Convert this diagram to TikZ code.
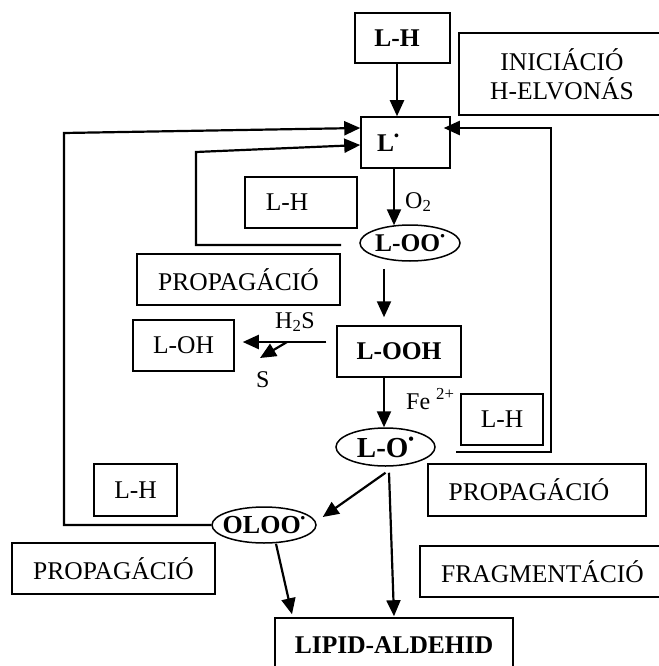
\documentclass[tikz,border=0pt]{standalone}
\usepackage{fontspec}
\setmainfont{Liberation Serif}
\usetikzlibrary{arrows.meta,shapes.geometric,calc}
\newcommand\radot[1]{\raisebox{0.45em}{\fontsize{#1}{#1}\selectfont •}}
\newcommand\shiftedtext[2]{\makebox[0pt]{\kern#1\relax #2}}
\begin{document}
\begin{tikzpicture}[x=1pt,y=-1pt,
  box/.style={draw,line width=1.5pt,rectangle,inner sep=0pt,font=\fontsize{25.5pt}{29pt}\selectfont},
  ell/.style={draw,ellipse,line width=1.5pt,inner sep=0pt,font=\bfseries\fontsize{25.5pt}{29pt}\selectfont},
  arr/.style={-{Triangle[length=16pt,width=14pt]},line width=2.2pt},
  lbl/.style={inner sep=0pt,font=\fontsize{24pt}{26pt}\selectfont}]
\useasboundingbox (0,0) rectangle (658,666);
% boxes
\node[box,minimum width=95pt,minimum height=50pt,font=\bfseries\fontsize{25.5pt}{29pt}\selectfont] (lhtop) at (402.5,38) {\shiftedtext{-11pt}{L-H}};
\node[box,minimum width=206pt,minimum height=82pt,align=center] (inic) at (562,74) {INICIÁCIÓ\\H-ELVONÁS};
\node[box,minimum width=89pt,minimum height=51pt,font=\bfseries\fontsize{25.5pt}{29pt}\selectfont] (lrad) at (405.5,142.5) {\shiftedtext{-35pt}{L\radot{14pt}}};
\node[box,minimum width=112pt,minimum height=51pt] (lh2) at (301,202.5) {\shiftedtext{-28pt}{L-H}};
\node[ell,minimum width=100pt,minimum height=36pt] (loo) at (410,243) {\makebox[0pt]{L-OO\radot{13pt}}};
\node[box,minimum width=203pt,minimum height=51pt] (prop1) at (238.5,279.5) {PROPAGÁCIÓ};
\node[box,minimum width=101pt,minimum height=51pt] (loh) at (183.5,345.5) {L-OH};
\node[box,minimum width=124pt,minimum height=51pt,font=\bfseries\fontsize{25.5pt}{29pt}\selectfont] (looh) at (399,351.5) {L-OOH};
\node[box,minimum width=82pt,minimum height=51pt] (lh3) at (502,419.5) {L-H};
\node[ell,minimum width=99pt,minimum height=38pt,font=\bfseries\fontsize{29pt}{31pt}\selectfont] (lo) at (385.5,447) {\makebox[0pt]{L-O\radot{16pt}}};
\node[box,minimum width=83pt,minimum height=52pt] (lh4) at (135.5,490) {L-H};
\node[box,minimum width=218pt,minimum height=52pt] (prop2) at (537,490) {\shiftedtext{-16pt}{PROPAGÁCIÓ}};
\node[ell,minimum width=104pt,minimum height=36pt,font=\bfseries\fontsize{26pt}{28pt}\selectfont] (oloo) at (264,525) {\makebox[0pt]{OLOO\radot{13pt}}};
\node[box,minimum width=203pt,minimum height=51pt] (prop3) at (113.5,568.5) {PROPAGÁCIÓ};
\node[box,minimum width=245pt,minimum height=51pt] (frag) at (542.5,571.5) {FRAGMENTÁCIÓ};
\node[box,minimum width=238pt,minimum height=54pt,font=\bfseries\fontsize{25.5pt}{29pt}\selectfont] (lipid) at (394,645) {LIPID-ALDEHID};
% labels
\node[lbl,anchor=base west] (o2) at (405,208) {O\textsubscript{2}};
\node[lbl,anchor=base west] (h2s) at (275,328) {H\textsubscript{2}S};
\node[lbl,anchor=base west] (s) at (256,387) {S};
\node[lbl,anchor=base west] (fe) at (406,409) {Fe \textsuperscript{2+}};
% free coordinates
\coordinate (c1) at (64,525);
\coordinate (c2) at (64,133);
\coordinate (c3) at (341,245);
\coordinate (c4) at (196,245);
\coordinate (c5) at (196,152);
\coordinate (c6) at (456,452);
\coordinate (c7) at (551,452);
\coordinate (c8) at (551,128);
\coordinate (br) at (287,342);
\coordinate (stip) at (260,358);
% connectors
\draw[arr] ([xshift=-5.5pt]lhtop.south) -- ([xshift=-8.5pt]lrad.north);
\draw[arr] (oloo.west) -- (c1) -- (c2) -- ([yshift=14.5pt]lrad.west);
\draw[arr] (c3) -- (c4) -- (c5) -- ([yshift=-2.5pt]lrad.west);
\draw[arr] (c6) -- (c7) -- (c8) -- ([xshift=-7pt,yshift=14.5pt]lrad.east);
\draw[arr] ([xshift=-11.5pt]lrad.south) -- ([xshift=-16pt,yshift=-1pt]loo.north);
\draw[arr] ([xshift=-26pt,yshift=-7pt]loo.south) -- ([xshift=-15pt,yshift=8pt]looh.north);
\draw[arr] ([xshift=-10pt,yshift=9.5pt]looh.west) -- ([xshift=8pt,yshift=3.5pt]loh.east);
\draw[arr] (br) -- (stip);
\draw[arr] ([xshift=-15pt]looh.south) -- ([xshift=-1.5pt]lo.north);
\draw[arr] ([yshift=-6pt]lo.south) -- ([xshift=6pt,yshift=8pt]oloo.east);
\draw[arr] ([xshift=3.5pt,yshift=-6pt]lo.south) -- ([yshift=1pt]lipid.north);
\draw[arr] ([xshift=12pt]oloo.south) -- ([xshift=-102pt,yshift=3pt]lipid.north);
\end{tikzpicture}
\end{document}
